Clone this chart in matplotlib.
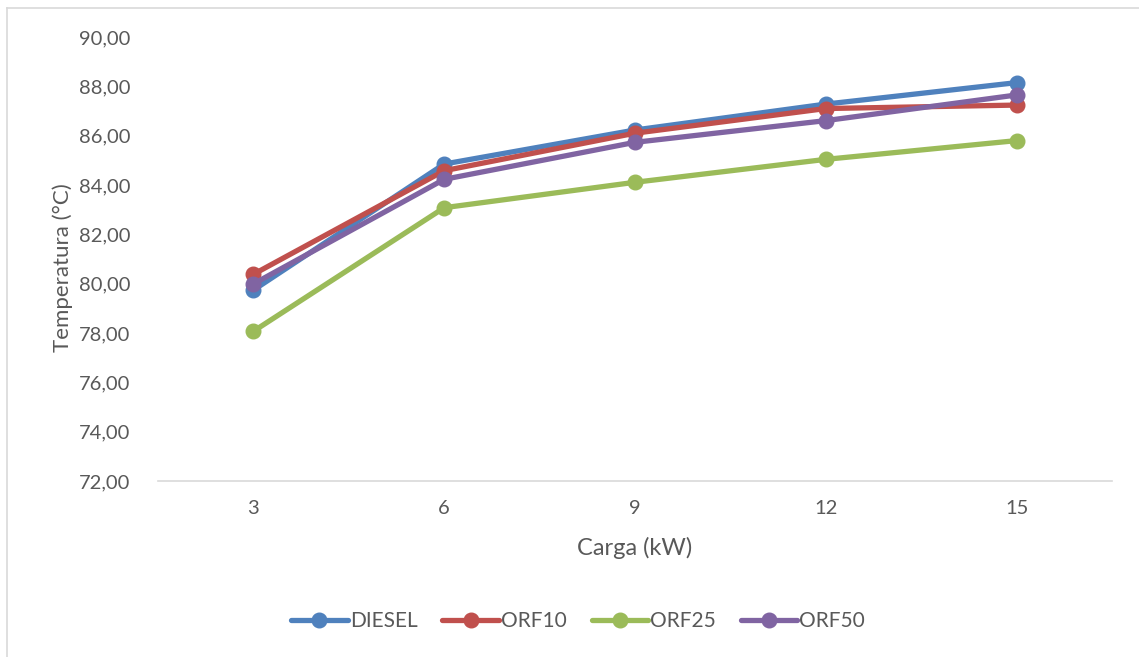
import matplotlib
matplotlib.use("Agg")
import matplotlib.pyplot as plt
from matplotlib.lines import Line2D

categories = ["3", "6", "9", "12", "15"]
diesel = [79.74, 84.85, 86.23, 87.28, 88.15]
orf10 = [80.38, 84.58, 86.10, 87.10, 87.24]
orf25 = [78.07, 83.08, 84.11, 85.04, 85.80]
orf50 = [79.99, 84.23, 85.73, 86.61, 87.65]
series_names = ["DIESEL", "ORF10", "ORF25", "ORF50"]
yticks = [72, 74, 76, 78, 80, 82, 84, 86, 88, 90]

colors = ["#4F81BD", "#C0504D", "#9BBB59", "#8064A2"]
text_color = "#595959"
plt.rcParams['font.family'] = ['Lato', 'DejaVu Sans']

fig = plt.figure(figsize=(11.39, 6.57), dpi=100)
ax = fig.add_axes([158/1139, 1-481/657, (1112-158)/1139, (481-37)/657])

x = list(range(len(categories)))
for vals, name, c in zip([diesel, orf10, orf25, orf50], series_names, colors):
    ax.plot(x, vals, color=c, lw=3.8, marker='o', markersize=10.5,
            label=name, solid_capstyle='round', solid_joinstyle='round')

ax.set_xlim(-0.5, len(categories) - 0.5)
ax.set_ylim(72, 90)
ax.set_yticks(yticks)
ax.set_yticklabels([f"{v:.2f}".replace(".", ",") for v in yticks])
ax.set_xticks(x)
ax.set_xticklabels(categories)
ax.tick_params(axis='both', length=0, labelsize=14.5, colors=text_color)
ax.tick_params(axis='y', pad=20)
ax.tick_params(axis='x', pad=14)
for s in ['top', 'right', 'left']:
    ax.spines[s].set_visible(False)
ax.spines['bottom'].set_color('#D9D9D9')
ax.spines['bottom'].set_linewidth(1.2)

ax.set_xlabel("Carga (kW)", fontsize=17, color=text_color, labelpad=14)
ax.set_ylabel("Temperatura (°C)", fontsize=16, color=text_color)
ax.yaxis.set_label_coords(-85/954, (481-268)/444)

leg = fig.legend(loc='center', bbox_to_anchor=(578/1139, 1-621/657), ncol=4,
                 frameon=False, fontsize=15, handlelength=2.7, handletextpad=0.1,
                 columnspacing=1.2, labelcolor=text_color)

# chart border (top and left visible)
fig.add_artist(Line2D([7/1139, 1], [1-8/657, 1-8/657], color='#D9D9D9', lw=1.2, transform=fig.transFigure))
fig.add_artist(Line2D([7/1139, 7/1139], [0, 1-8/657], color='#D9D9D9', lw=1.2, transform=fig.transFigure))

fig.savefig("out.png", dpi=100)
